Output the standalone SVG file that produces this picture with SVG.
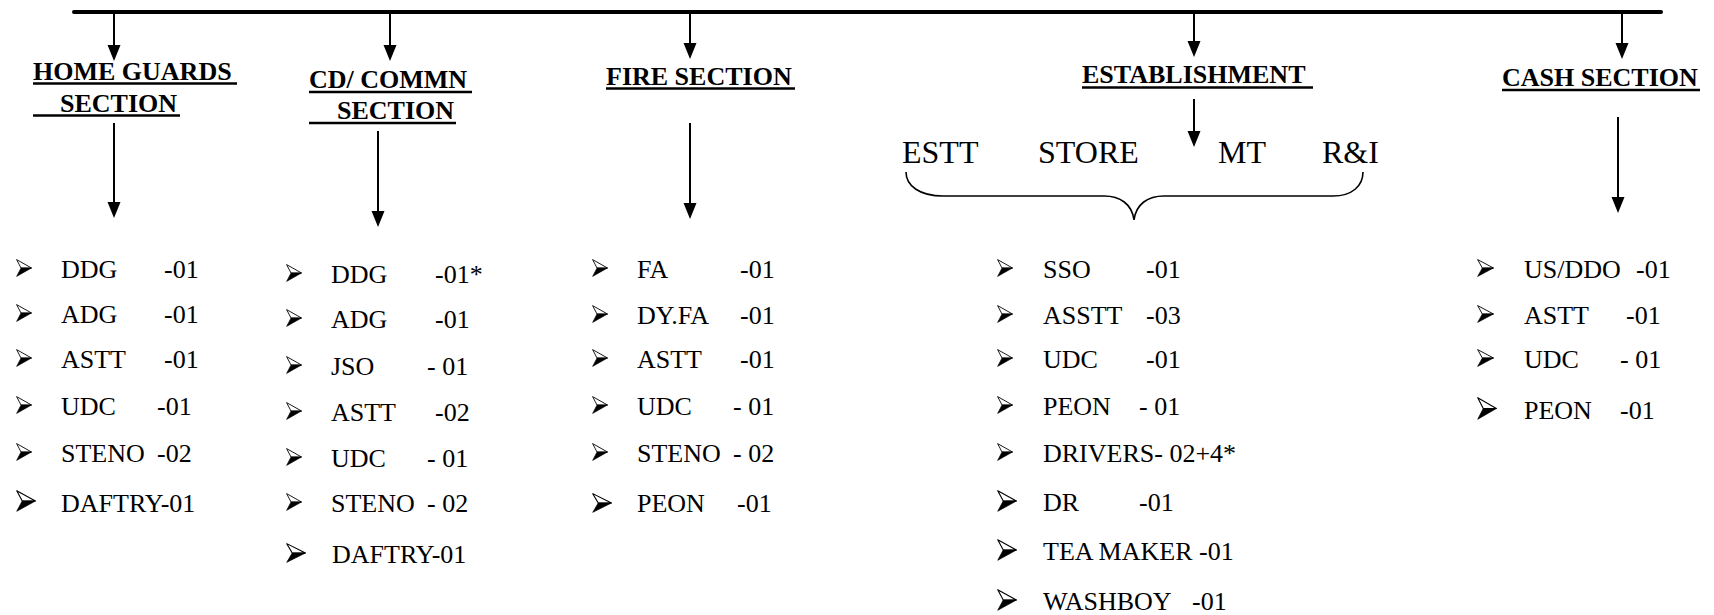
<svg xmlns="http://www.w3.org/2000/svg" xmlns:xlink="http://www.w3.org/1999/xlink" width="1714" height="615" viewBox="0 0 1714 615">
<style>
.h{font-family:"Liberation Serif","Times New Roman",serif;font-weight:bold;font-size:26px;fill:#000}
.t{font-family:"Liberation Serif","Times New Roman",serif;font-size:26px;fill:#000}
.s{font-family:"Liberation Serif","Times New Roman",serif;font-size:32px;fill:#000}
.ul{stroke:#000;stroke-width:2.5}
.c{stroke:#000;stroke-width:2;fill:none;marker-end:url(#ah)}
</style>
<defs>
<marker id="ah" markerUnits="userSpaceOnUse" markerWidth="17" markerHeight="14" refX="6" refY="7" orient="auto">
<path d="M0,0.5 L16,7 L0,13.5 Z" fill="#000"/>
</marker>
<symbol id="b" viewBox="0 0 16 18" preserveAspectRatio="none">
<path d="M0.6,0.6 L15.5,9 L5,9 Z" fill="#fff" stroke="#000" stroke-width="0.9" stroke-linejoin="round"/>
<path d="M5,9 L15.5,9 L0.6,17.4 Z" fill="#000" stroke="#000" stroke-width="0.6"/>
</symbol>
</defs>
<rect width="1714" height="615" fill="#fff"/>

<g id="connectors">
<line x1="74" y1="12" x2="1661" y2="12" stroke="#000" stroke-width="4" stroke-linecap="round"/>
<line class="c" x1="114" y1="12" x2="114" y2="51"/>
<line class="c" x1="390" y1="12" x2="390" y2="51"/>
<line class="c" x1="690" y1="12" x2="690" y2="49"/>
<line class="c" x1="1194" y1="12" x2="1194" y2="47"/>
<line class="c" x1="1622" y1="12" x2="1622" y2="49"/>
<line class="c" x1="114" y1="123" x2="114" y2="208"/>
<line class="c" x1="378" y1="131" x2="378" y2="217"/>
<line class="c" x1="690" y1="123" x2="690" y2="209"/>
<line class="c" x1="1194" y1="99" x2="1194" y2="137"/>
<line class="c" x1="1618" y1="117" x2="1618" y2="203"/>
<path d="M906,172 C906,186 920,196 943,196 L1104,196 C1120,196 1132,204 1134,220 C1136,204 1148,196 1164,196 L1333,196 C1352,196 1363,186 1363,172" fill="none" stroke="#000" stroke-width="1.6"/>
</g>

<g id="home-guards">
<text class="h" x="33" y="80">HOME GUARDS</text>
<line class="ul" x1="33" y1="83.5" x2="237" y2="83.5"/>
<text class="h" x="60" y="112">SECTION</text>
<line class="ul" x1="33" y1="115.5" x2="180" y2="115.5"/>
<use href="#b" x="16" y="259" width="16" height="18"/>
<use href="#b" x="16" y="304" width="16" height="18"/>
<use href="#b" x="16" y="349" width="16" height="18"/>
<use href="#b" x="16" y="396" width="16" height="18"/>
<use href="#b" x="16" y="443" width="16" height="18"/>
<use href="#b" x="16" y="490" width="20" height="22"/>
<text class="t" y="278"><tspan x="61">DDG</tspan><tspan x="164">-01</tspan></text>
<text class="t" y="323"><tspan x="61">ADG</tspan><tspan x="164">-01</tspan></text>
<text class="t" y="368"><tspan x="61">ASTT</tspan><tspan x="164">-01</tspan></text>
<text class="t" y="415"><tspan x="61">UDC</tspan><tspan x="157">-01</tspan></text>
<text class="t" y="462"><tspan x="61">STENO</tspan><tspan x="157">-02</tspan></text>
<text class="t" x="61" y="512">DAFTRY-01</text>
</g>

<g id="cd-commn">
<text class="h" x="309" y="88">CD/ COMMN</text>
<line class="ul" x1="309" y1="92" x2="472" y2="92"/>
<text class="h" x="337" y="119">SECTION</text>
<line class="ul" x1="309" y1="123" x2="456" y2="123"/>
<use href="#b" x="286" y="264" width="16" height="18"/>
<use href="#b" x="286" y="309" width="16" height="18"/>
<use href="#b" x="286" y="356" width="16" height="18"/>
<use href="#b" x="286" y="402" width="16" height="18"/>
<use href="#b" x="286" y="448" width="16" height="18"/>
<use href="#b" x="286" y="493" width="16" height="18"/>
<use href="#b" x="286" y="543" width="20" height="20"/>
<text class="t" y="283"><tspan x="331">DDG</tspan><tspan x="435">-01*</tspan></text>
<text class="t" y="328"><tspan x="331">ADG</tspan><tspan x="435">-01</tspan></text>
<text class="t" y="375"><tspan x="331">JSO</tspan><tspan x="427">- 01</tspan></text>
<text class="t" y="421"><tspan x="331">ASTT</tspan><tspan x="435">-02</tspan></text>
<text class="t" y="467"><tspan x="331">UDC</tspan><tspan x="427">- 01</tspan></text>
<text class="t" y="512"><tspan x="331">STENO</tspan><tspan x="427">- 02</tspan></text>
<text class="t" x="332" y="563">DAFTRY-01</text>
</g>

<g id="fire-section">
<text class="h" x="606" y="85">FIRE SECTION</text>
<line class="ul" x1="606" y1="88.5" x2="795" y2="88.5"/>
<use href="#b" x="592" y="259" width="16" height="18"/>
<use href="#b" x="592" y="305" width="16" height="18"/>
<use href="#b" x="592" y="349" width="16" height="18"/>
<use href="#b" x="592" y="396" width="16" height="18"/>
<use href="#b" x="592" y="443" width="16" height="18"/>
<use href="#b" x="592" y="493" width="20" height="20"/>
<text class="t" y="278"><tspan x="637">FA</tspan><tspan x="740">-01</tspan></text>
<text class="t" y="324"><tspan x="637">DY.FA</tspan><tspan x="740">-01</tspan></text>
<text class="t" y="368"><tspan x="637">ASTT</tspan><tspan x="740">-01</tspan></text>
<text class="t" y="415"><tspan x="637">UDC</tspan><tspan x="733">- 01</tspan></text>
<text class="t" y="462"><tspan x="637">STENO</tspan><tspan x="733">- 02</tspan></text>
<text class="t" y="512"><tspan x="637">PEON</tspan><tspan x="737">-01</tspan></text>
</g>

<g id="establishment">
<text class="h" x="1082" y="83">ESTABLISHMENT</text>
<line class="ul" x1="1082" y1="87.5" x2="1313" y2="87.5"/>
<text class="s" x="902" y="163">ESTT</text>
<text class="s" x="1038" y="163">STORE</text>
<text class="s" x="1218" y="163">MT</text>
<text class="s" x="1322" y="163">R&amp;I</text>
<use href="#b" x="997" y="259" width="16" height="18"/>
<use href="#b" x="997" y="305" width="16" height="18"/>
<use href="#b" x="997" y="349" width="16" height="18"/>
<use href="#b" x="997" y="396" width="16" height="18"/>
<use href="#b" x="997" y="443" width="16" height="18"/>
<use href="#b" x="997" y="490" width="20" height="22"/>
<use href="#b" x="997" y="539" width="20" height="22"/>
<use href="#b" x="997" y="589" width="20" height="22"/>
<text class="t" y="278"><tspan x="1043">SSO</tspan><tspan x="1146">-01</tspan></text>
<text class="t" y="324"><tspan x="1043">ASSTT</tspan><tspan x="1146">-03</tspan></text>
<text class="t" y="368"><tspan x="1043">UDC</tspan><tspan x="1146">-01</tspan></text>
<text class="t" y="415"><tspan x="1043">PEON</tspan><tspan x="1139">- 01</tspan></text>
<text class="t" x="1043" y="462">DRIVERS- 02+4*</text>
<text class="t" y="511"><tspan x="1043">DR</tspan><tspan x="1139">-01</tspan></text>
<text class="t" x="1043" y="560">TEA MAKER -01</text>
<text class="t" y="610"><tspan x="1043">WASHBOY</tspan><tspan x="1192">-01</tspan></text>
</g>

<g id="cash-section">
<text class="h" x="1502" y="86">CASH SECTION</text>
<line class="ul" x1="1502" y1="90" x2="1700" y2="90"/>
<use href="#b" x="1477" y="259" width="17" height="18"/>
<use href="#b" x="1477" y="305" width="17" height="18"/>
<use href="#b" x="1477" y="349" width="17" height="18"/>
<use href="#b" x="1477" y="397" width="20" height="23"/>
<text class="t" y="278"><tspan x="1524">US/DDO</tspan><tspan x="1636">-01</tspan></text>
<text class="t" y="324"><tspan x="1524">ASTT</tspan><tspan x="1626">-01</tspan></text>
<text class="t" y="368"><tspan x="1524">UDC</tspan><tspan x="1620">- 01</tspan></text>
<text class="t" y="419"><tspan x="1524">PEON</tspan><tspan x="1620">-01</tspan></text>
</g>
</svg>
